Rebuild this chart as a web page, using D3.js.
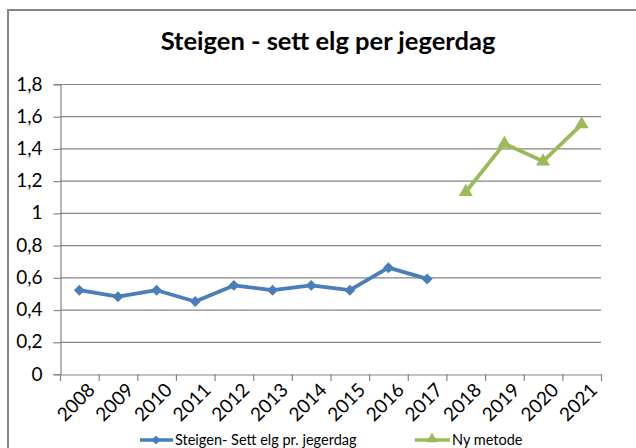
<!DOCTYPE html>
<html><head><meta charset="utf-8">
<script src="https://cdn.jsdelivr.net/npm/d3@7"></script>
<style>body{margin:0;background:#fff;} svg{display:block;}</style>
</head><body>
<script>
const years = ["2008","2009","2010","2011","2012","2013","2014","2015","2016","2017","2018","2019","2020","2021"];
const seriesOldYears = ["2008","2009","2010","2011","2012","2013","2014","2015","2016","2017"];
const seriesOldValues = [0.52,0.48,0.52,0.45,0.55,0.52,0.55,0.52,0.66,0.59];
const seriesNewYears = ["2018","2019","2020","2021"];
const seriesNewValues = [1.13,1.43,1.32,1.55];
const yTicks = [0,0.2,0.4,0.6,0.8,1,1.2,1.4,1.6,1.8];
const yTickLabels = ["0","0,2","0,4","0,6","0,8","1","1,2","1,4","1,6","1,8"];
const title = "Steigen - sett elg per jegerdag";
const legendLabels = ["Steigen- Sett elg pr. jegerdag","Ny metode"];

const W=636,H=448;
const pLeft=60,pRight=601,pTop=84,pBottom=374;
const blue="#4A7EBB", green="#9BBB59", grid="#868686";
const font="Lato, 'Open Sans', sans-serif";

const svg=d3.select("body").append("svg").attr("width",W).attr("height",H);
svg.append("rect").attr("x",0).attr("y",0).attr("width",W).attr("height",H).attr("fill","#fff");
svg.append("rect").attr("x",8).attr("y",10).attr("width",W+20).attr("height",H+20)
  .attr("fill","none").attr("stroke",grid).attr("stroke-width",2);

const x=d3.scaleBand().domain(years).range([pLeft,pRight]).padding(0);
const y=d3.scaleLinear().domain([0,1.8]).range([pBottom,pTop]);

// gridlines
svg.append("g").selectAll("line").data(yTicks.filter(d=>d>0)).join("line")
  .attr("x1",pLeft).attr("x2",pRight).attr("y1",d=>y(d)+0.5).attr("y2",d=>y(d)+0.5)
  .attr("stroke",grid).attr("stroke-width",1.2);

// y axis
const yAxis=svg.append("g").attr("transform",`translate(${pLeft+0.5},0)`)
  .call(d3.axisLeft(y).tickValues(yTicks).tickSize(7).tickPadding(11).tickFormat((d,i)=>yTickLabels[i]));
yAxis.select(".domain").attr("stroke",grid).attr("stroke-width",1.2);
yAxis.selectAll(".tick line").attr("stroke",grid).attr("stroke-width",1.2).attr("transform","translate(0,0.5)");
yAxis.selectAll(".tick text").attr("font-family",font).attr("font-size",19).attr("fill","#000");

// x axis
const xAxis=svg.append("g").attr("transform",`translate(0,${pBottom+0.5})`)
  .call(d3.axisBottom(x).tickSize(0).tickPadding(10));
xAxis.select(".domain").attr("stroke",grid).attr("stroke-width",1.2);
xAxis.selectAll(".tick text").attr("font-family",font).attr("font-size",19).attr("fill","#000")
  .attr("text-anchor","end").attr("dy","0.35em")
  .attr("transform","translate(5,5) rotate(-45)");
const bounds=years.map(d=>x(d)).concat([x(years[years.length-1])+x.bandwidth()]);
svg.append("g").selectAll("line").data(bounds).join("line")
  .attr("x1",d=>d+0.5).attr("x2",d=>d+0.5).attr("y1",pBottom).attr("y2",pBottom+7)
  .attr("stroke",grid).attr("stroke-width",1.2);

const cx=d=>x(d)+x.bandwidth()/2;
const line=d3.line().x(d=>cx(d[0])).y(d=>y(d[1]));
const oldData=seriesOldYears.map((d,i)=>[d,seriesOldValues[i]]);
const newData=seriesNewYears.map((d,i)=>[d,seriesNewValues[i]]);

svg.append("path").datum(oldData).attr("d",line).attr("fill","none").attr("stroke",blue)
  .attr("stroke-width",3.8).attr("stroke-linejoin","round");
svg.append("g").selectAll("path").data(oldData).join("path")
  .attr("d",d3.symbol().type(d3.symbolSquare).size(60))
  .attr("transform",d=>`translate(${cx(d[0])},${y(d[1])}) rotate(45)`).attr("fill",blue);

svg.append("path").datum(newData).attr("d",line).attr("fill","none").attr("stroke",green)
  .attr("stroke-width",3.8).attr("stroke-linejoin","round");
svg.append("g").selectAll("path").data(newData).join("path")
  .attr("d",d3.symbol().type(d3.symbolTriangle).size(85))
  .attr("transform",d=>`translate(${cx(d[0])},${y(d[1])})`).attr("fill",green);

// title
svg.append("text").attr("x",328).attr("y",50).attr("text-anchor","middle")
  .attr("font-family",font).attr("font-weight","bold").attr("font-size",25.5).text(title);

// legend
const lg=svg.append("g");
lg.append("line").attr("x1",140).attr("x2",173).attr("y1",440).attr("y2",440).attr("stroke",blue).attr("stroke-width",3.5);
lg.append("path").attr("d",d3.symbol().type(d3.symbolSquare).size(40)).attr("transform","translate(156,440) rotate(45)").attr("fill",blue);
lg.append("text").attr("x",175).attr("y",445).attr("font-family",font).attr("font-size",14.5).text(legendLabels[0]);
lg.append("line").attr("x1",415).attr("x2",450).attr("y1",440).attr("y2",440).attr("stroke",green).attr("stroke-width",3.5);
lg.append("path").attr("d",d3.symbol().type(d3.symbolTriangle).size(55)).attr("transform","translate(432,439)").attr("fill",green);
lg.append("text").attr("x",452).attr("y",445).attr("font-family",font).attr("font-size",14.5).text(legendLabels[1]);
</script>
</body></html>
